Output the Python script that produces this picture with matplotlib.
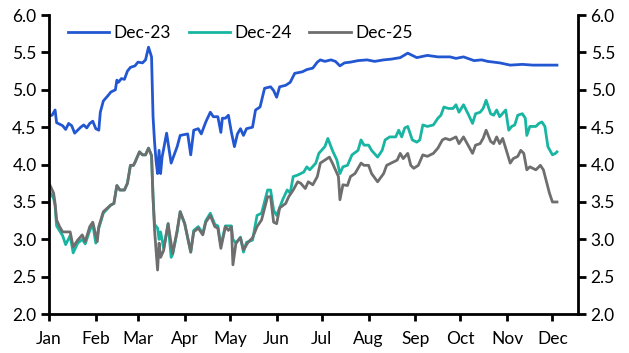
import matplotlib
matplotlib.use("Agg")
import matplotlib.pyplot as plt

plt.rcParams['font.family'] = ['Lato', 'DejaVu Sans']

month_labels = ["Jan", "Feb", "Mar", "Apr", "May", "Jun", "Jul", "Aug", "Sep", "Oct", "Nov", "Dec"]
month_days = [0, 31, 59, 90, 120, 151, 181, 212, 243, 273, 304, 334]
y_ticks = [2.0, 2.5, 3.0, 3.5, 4.0, 4.5, 5.0, 5.5, 6.0]

# Day of year (0 = 1 Jan) and implied rates
dec23_days = [0, 2, 4, 5, 9, 11, 13, 15, 17, 21, 23, 25, 27, 29, 31, 33, 34, 36, 39, 41, 44, 45, 46, 48,
              50, 52, 54, 57, 59, 62, 64, 66, 68, 69, 70, 71, 72, 73, 74, 75, 78, 81, 85, 87, 92, 94,
              96, 99, 101, 104, 107, 109, 112, 114, 115, 117, 119, 121, 123, 125, 127, 129, 131, 135,
              137, 140, 143, 147, 149, 151, 153, 157, 160, 163, 168, 171, 175, 178, 180, 183, 187,
              190, 193, 196, 200, 205, 211, 216, 222, 227, 233, 238, 244, 251, 258, 266, 270, 275,
              282, 287, 291, 299, 306, 314, 321, 329, 337]
dec23_vals = [4.65, 4.66, 4.73, 4.56, 4.52, 4.47, 4.55, 4.52, 4.42, 4.50, 4.53, 4.49, 4.55, 4.58, 4.48,
              4.46, 4.70, 4.85, 4.92, 4.97, 5.00, 5.13, 5.10, 5.15, 5.14, 5.25, 5.30, 5.32, 5.37, 5.36,
              5.40, 5.57, 5.44, 4.64, 4.30, 4.05, 3.88, 4.19, 3.88, 4.10, 4.42, 4.02, 4.24, 4.39, 4.41,
              4.13, 4.46, 4.48, 4.41, 4.57, 4.70, 4.64, 4.64, 4.43, 4.62, 4.62, 4.66, 4.43, 4.24, 4.41,
              4.48, 4.39, 4.48, 4.50, 4.73, 4.77, 5.02, 5.04, 4.99, 4.90, 5.04, 5.06, 5.10, 5.22, 5.24,
              5.27, 5.29, 5.37, 5.40, 5.38, 5.40, 5.38, 5.32, 5.36, 5.37, 5.39, 5.40, 5.38, 5.40, 5.41,
              5.43, 5.49, 5.43, 5.46, 5.44, 5.44, 5.42, 5.44, 5.39, 5.40, 5.38, 5.36, 5.33, 5.34, 5.33,
              5.33, 5.33]

dec24_days = [0, 3, 4, 5, 9, 11, 14, 16, 19, 22, 24, 27, 29, 31, 33, 36, 41, 43, 45, 47, 50, 52, 54,
              56, 57, 60, 62, 64, 66, 68, 69, 70, 72, 73, 74, 76, 79, 81, 82, 85, 87, 90, 94, 96, 99,
              102, 104, 107, 110, 112, 114, 117, 119, 121, 122, 124, 127, 129, 131, 135, 138, 141,
              145, 147, 149, 151, 155, 158, 160, 162, 165, 169, 171, 173, 177, 179, 183, 185, 188,
              191, 193, 195, 198, 201, 205, 207, 209, 212, 214, 218, 221, 223, 226, 230, 232, 234,
              236, 238, 241, 244, 246, 248, 251, 255, 258, 260, 262, 265, 268, 270, 272, 275, 278,
              281, 283, 286, 288, 290, 293, 295, 297, 299, 303, 305, 307, 309, 311, 314, 316, 317,
              319, 323, 325, 327, 329, 331, 334, 336, 337]
dec24_vals = [3.65, 3.55, 3.45, 3.18, 3.05, 2.93, 3.05, 2.82, 2.95, 3.00, 2.94, 3.12, 3.20, 2.95, 3.15,
              3.35, 3.46, 3.48, 3.72, 3.66, 3.66, 3.75, 3.99, 3.99, 4.03, 4.17, 4.13, 4.13, 4.22, 4.12,
              3.56, 3.20, 3.15, 3.00, 3.10, 2.88, 3.21, 2.76, 2.80, 3.10, 3.37, 3.21, 2.83, 3.12, 3.17,
              3.08, 3.25, 3.35, 3.20, 3.18, 2.92, 3.18, 3.18, 3.18, 3.00, 2.95, 3.03, 2.83, 2.96, 2.99,
              3.32, 3.35, 3.66, 3.66, 3.39, 3.32, 3.53, 3.66, 3.62, 3.84, 3.86, 3.90, 3.97, 3.93, 4.02,
              4.15, 4.24, 4.35, 4.19, 4.06, 3.88, 3.97, 3.99, 4.13, 4.19, 4.33, 4.26, 4.26, 4.19, 4.10,
              4.19, 4.33, 4.37, 4.37, 4.46, 4.37, 4.49, 4.51, 4.33, 4.30, 4.33, 4.53, 4.51, 4.53, 4.62,
              4.66, 4.77, 4.75, 4.75, 4.80, 4.70, 4.80, 4.68, 4.55, 4.68, 4.70, 4.75, 4.86, 4.68, 4.66,
              4.73, 4.64, 4.73, 4.46, 4.51, 4.53, 4.66, 4.68, 4.62, 4.39, 4.51, 4.51, 4.55, 4.57, 4.51,
              4.24, 4.13, 4.15, 4.17]

dec25_days = [0, 3, 4, 5, 7, 9, 14, 16, 19, 22, 24, 27, 29, 32, 33, 36, 41, 43, 45, 47, 50, 52, 54,
              56, 57, 60, 62, 64, 66, 68, 69, 70, 72, 73, 74, 76, 79, 82, 85, 87, 90, 94, 96, 99, 102,
              104, 107, 110, 112, 114, 117, 119, 121, 122, 124, 127, 129, 132, 135, 138, 141, 145,
              147, 149, 151, 153, 157, 159, 162, 165, 167, 170, 172, 175, 178, 180, 183, 186, 188,
              190, 192, 193, 195, 198, 200, 203, 207, 209, 212, 214, 218, 222, 224, 228, 231, 233,
              235, 238, 240, 242, 245, 248, 251, 255, 258, 261, 263, 266, 270, 272, 275, 278, 281,
              283, 286, 288, 290, 293, 295, 297, 299, 301, 304, 306, 308, 311, 313, 315, 317, 319,
              323, 326, 328, 331, 332, 334, 337]
dec25_vals = [3.75, 3.62, 3.48, 3.26, 3.17, 3.10, 3.10, 2.90, 2.99, 3.06, 2.97, 3.17, 3.23, 2.97, 3.17,
              3.37, 3.46, 3.48, 3.72, 3.66, 3.66, 3.75, 3.99, 3.99, 4.03, 4.17, 4.13, 4.13, 4.22, 4.12,
              3.56, 3.12, 2.59, 2.95, 2.76, 2.85, 3.21, 2.81, 3.12, 3.37, 3.21, 2.83, 3.10, 3.15, 3.06,
              3.23, 3.32, 3.17, 3.15, 2.88, 3.17, 3.12, 3.17, 2.66, 2.95, 3.02, 2.86, 2.96, 3.02, 3.17,
              3.26, 3.57, 3.57, 3.23, 3.21, 3.42, 3.48, 3.57, 3.66, 3.77, 3.75, 3.68, 3.77, 3.73, 3.84,
              4.02, 4.06, 4.10, 4.02, 3.93, 3.84, 3.53, 3.73, 3.72, 3.84, 3.88, 4.02, 3.99, 3.99, 3.88,
              3.77, 3.88, 3.99, 4.03, 4.06, 4.15, 4.08, 4.15, 3.99, 3.95, 3.99, 4.13, 4.11, 4.15, 4.22,
              4.33, 4.35, 4.33, 4.37, 4.28, 4.37, 4.26, 4.15, 4.26, 4.28, 4.35, 4.46, 4.31, 4.28, 4.37,
              4.28, 4.35, 4.15, 4.02, 4.08, 4.11, 4.19, 4.15, 3.93, 3.97, 3.93, 3.99, 3.93, 3.70, 3.62,
              3.50, 3.50]

series = [("Dec-23", dec23_days, dec23_vals, "#2357D1"),
          ("Dec-24", dec24_days, dec24_vals, "#17B5A2"),
          ("Dec-25", dec25_days, dec25_vals, "#6E6E6E")]

fig = plt.figure(figsize=(6.29, 3.53), dpi=100)
ax = fig.add_axes([0.078, 0.110, 0.841, 0.8475])

for name, d, v, c in series:
    ax.plot(d, v, color=c, lw=2.0, label=name, solid_joinstyle='round')

ax.set_xlim(0, 351)
ax.set_ylim(2.0, 6.0)
ax.set_xticks(month_days)
ax.set_xticklabels(month_labels)
ax.set_yticks(y_ticks)
ax.set_yticklabels([f"{t:.1f}" for t in y_ticks])

for s in ["left", "right", "bottom"]:
    ax.spines[s].set_linewidth(2.0)
    ax.spines[s].set_color("black")
ax.spines["top"].set_visible(False)

ax.tick_params(axis="both", direction="out", width=2.0, labelsize=12.5, colors="black")
ax.tick_params(axis="x", length=5, pad=7)
ax.tick_params(axis="y", length=6, pad=3, right=True, labelright=True)

leg = ax.legend(loc="upper left", bbox_to_anchor=(0.022, 0.99), ncol=3, frameon=False,
                fontsize=12.5, handlelength=2.4, handletextpad=0.25, columnspacing=1.0,
                borderaxespad=0.0)

fig.savefig("out.png", dpi=100)
